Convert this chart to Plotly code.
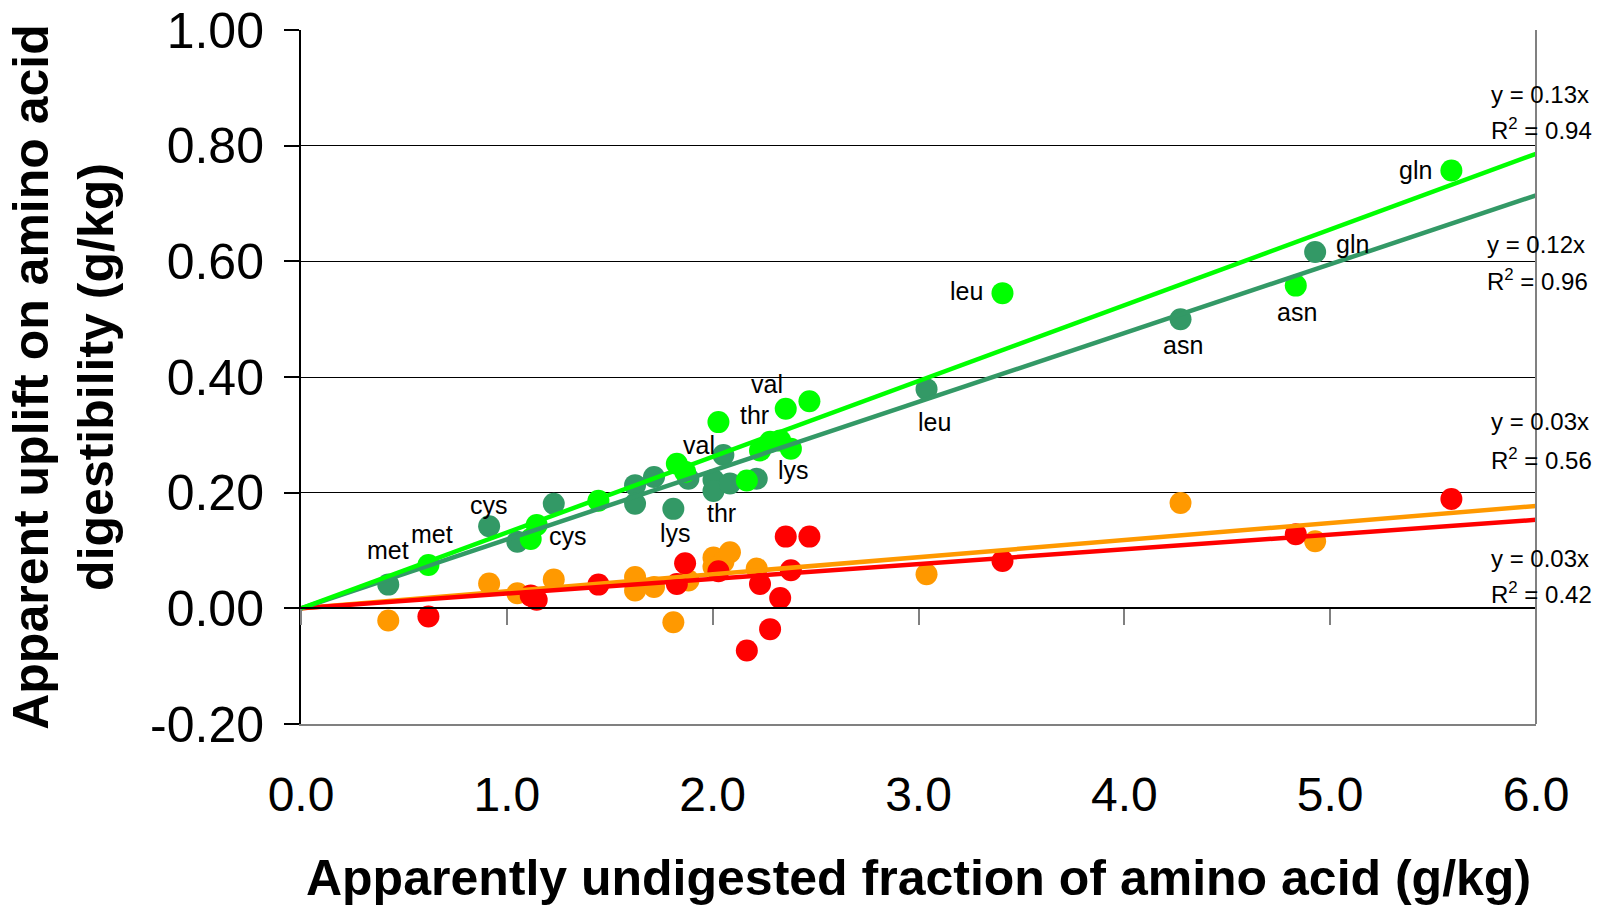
import plotly.graph_objects as go

# ---------------- data ----------------
# diet A: x shared by dark-green (uplift) and orange series
x_diet_a = [0.424, 0.914, 1.051, 1.228, 1.623, 1.623, 1.715, 1.809, 1.882,
            2.004, 2.004, 2.052, 2.084, 2.214, 3.039, 4.273, 4.927]
dark_green_y = [0.041, 0.142, 0.115, 0.181, 0.213, 0.181, 0.227, 0.172, 0.224,
                0.222, 0.203, 0.265, 0.216, 0.224, 0.379, 0.500, 0.616]
orange_y = [-0.021, 0.043, 0.026, 0.050, 0.054, 0.031, 0.037, -0.024, 0.048,
            0.088, 0.072, 0.080, 0.097, 0.069, 0.059, 0.182, 0.116]

# diet B: x shared by light-green (uplift) and red series
x_diet_b = [0.619, 1.116, 1.145, 1.445, 1.826, 1.866, 2.028, 2.166, 2.230,
            2.279, 2.328, 2.355, 2.380, 2.470, 3.408, 4.833, 5.589]
light_green_y = [0.075, 0.120, 0.144, 0.186, 0.250, 0.236, 0.322, 0.221, 0.273,
                 0.288, 0.290, 0.345, 0.276, 0.358, 0.545, 0.558, 0.757]
red_y = [-0.014, 0.022, 0.015, 0.041, 0.042, 0.078, 0.064, -0.073, 0.042,
         -0.036, 0.018, 0.124, 0.066, 0.124, 0.082, 0.128, 0.189]

# point labels: index -> amino acid
dark_green_labels = {0: "met", 1: "cys", 7: "lys", 10: "thr", 11: "val",
                     14: "leu", 15: "asn", 16: "gln"}
light_green_labels = {0: "met", 1: "cys", 12: "lys", 11: "thr", 13: "val",
                      14: "leu", 15: "asn", 16: "gln"}

# trendlines through origin (slopes as drawn) and their displayed labels
trend_slope_light = 0.131
trend_slope_dark = 0.119
trend_slope_orange = 0.0295
trend_slope_red = 0.0255
eq_slope_text = ["0.13", "0.12", "0.03", "0.03"]   # light, dark, orange, red
r2_text = ["0.94", "0.96", "0.56", "0.42"]

x_range = [0, 6]
y_range = [-0.2, 1.0]
x_tick_vals = [0, 1, 2, 3, 4, 5, 6]
x_tick_labels = ["0.0", "1.0", "2.0", "3.0", "4.0", "5.0", "6.0"]
y_tick_vals = [-0.2, 0.0, 0.2, 0.4, 0.6, 0.8, 1.0]
y_tick_labels = ["-0.20", "0.00", "0.20", "0.40", "0.60", "0.80", "1.00"]

x_title = "Apparently undigested fraction of amino acid (g/kg)"
y_title = "Apparent uplift on amino acid<br>digestibility (g/kg)"

# ---------------- styles ----------------
FONT = "Liberation Sans, Arial, Helvetica, sans-serif"
C_LIGHT = "#00FF00"
C_DARK = "#339966"
C_ORANGE = "#FF9900"
C_RED = "#FF0000"
MS = 22
LABEL_SIZE = 25

# label offsets in pixels (dx right, dy up)
dark_offsets = {0: (0, 35), 1: (0, 21), 7: (2, -24), 10: (8, -22), 11: (-24, 10),
                14: (8, -33), 15: (2, -26), 16: (37, 8)}
light_offsets = {0: (4, 31), 1: (37, 3), 12: (3, -21), 11: (-31, -6), 13: (-42, 17),
                 14: (-36, 2), 15: (1, -26), 16: (-36, 1)}

fig = go.Figure()

def add_points(x, y, color):
    fig.add_trace(go.Scatter(x=x, y=y, mode="markers",
                             marker=dict(color=color, size=MS, line=dict(width=0)),
                             showlegend=False, hoverinfo="x+y"))

add_points(x_diet_a, dark_green_y, C_DARK)
add_points(x_diet_a, orange_y, C_ORANGE)
add_points(x_diet_b, light_green_y, C_LIGHT)
add_points(x_diet_b, red_y, C_RED)

def add_trend(slope, color):
    xs = [x_range[0], x_range[1]]
    fig.add_trace(go.Scatter(x=xs, y=[slope * v for v in xs], mode="lines",
                             xaxis="x2", line=dict(color=color, width=4.5),
                             showlegend=False, hoverinfo="skip"))

add_trend(trend_slope_orange, C_ORANGE)
add_trend(trend_slope_red, C_RED)
add_trend(trend_slope_dark, C_DARK)
add_trend(trend_slope_light, C_LIGHT)

annotations = []
def add_labels(xs, ys, labels, offsets):
    for i, txt in labels.items():
        dx, dy = offsets[i]
        annotations.append(dict(x=xs[i], y=ys[i], xref="x", yref="y", text=txt,
                                showarrow=False, xshift=dx, yshift=dy,
                                xanchor="center", yanchor="middle",
                                font=dict(family=FONT, size=LABEL_SIZE, color="black")))

add_labels(x_diet_a, dark_green_y, dark_green_labels, dark_offsets)
add_labels(x_diet_b, light_green_y, light_green_labels, light_offsets)

# equation labels (right side) -- pixel positions converted to paper coords
L, R, T, B = 301, 76, 30, 185
W, H = 1612, 909
pw, ph = W - L - R, H - T - B
eq_pixel_rows = [(94.5, 128.5), (244.5, 279.5), (421.5, 458.5), (558, 593)]
eq_pixel_x = [1489, 1485, 1489, 1489]
for k in range(4):
    ya, yb = eq_pixel_rows[k]
    px = (eq_pixel_x[k] - L) / pw
    for text, py in (("y = " + eq_slope_text[k] + "x", ya),
                     ("R<sup>2</sup> = " + r2_text[k], yb)):
        annotations.append(dict(x=px, y=(H - B - py) / ph, xref="paper", yref="paper",
                                text=text, showarrow=False, xanchor="left",
                                yanchor="middle",
                                font=dict(family=FONT, size=24, color="black")))

fig.update_layout(
    width=W, height=H,
    margin=dict(l=L, r=R, t=T, b=B, pad=0),
    paper_bgcolor="white", plot_bgcolor="white",
    font=dict(family=FONT, color="black"),
    annotations=annotations,
    shapes=[dict(type="line", xref="paper", yref="paper", x0=1, x1=1, y0=0, y1=1,
                 line=dict(color="#808080", width=2))],
    xaxis=dict(range=x_range, tickvals=x_tick_vals, ticktext=x_tick_labels,
               ticks="", showgrid=False, zeroline=False,
               showline=True, linecolor="#808080", linewidth=2,
               tickfont=dict(family=FONT, size=48, color="black"),
               ticklabelstandoff=27,
               title=dict(text="<b>" + x_title + "</b>", standoff=40,
                          font=dict(family=FONT, size=50, color="black")),
               automargin=False),
    xaxis2=dict(range=x_range, overlaying="x", anchor="free",
                position=(0 - y_range[0]) / (y_range[1] - y_range[0]),
                tickvals=x_tick_vals, ticks="outside", ticklen=16, tickwidth=2,
                tickcolor="#808080", showticklabels=False, showgrid=False,
                zeroline=False, showline=True, linecolor="black", linewidth=1.5),
    yaxis=dict(range=y_range, tickvals=y_tick_vals, ticktext=y_tick_labels,
               ticks="outside", ticklen=15, tickwidth=1.5, tickcolor="black",
               showline=True, linecolor="black", linewidth=2,
               showgrid=True, gridcolor="black", gridwidth=1, zeroline=False,
               tickfont=dict(family=FONT, size=50, color="black"),
               ticklabelstandoff=10,
               title=dict(text="<b>" + y_title + "</b>", standoff=21,
                          font=dict(family=FONT, size=50, color="black")),
               automargin=False),
)

fig.write_html("out.html")
